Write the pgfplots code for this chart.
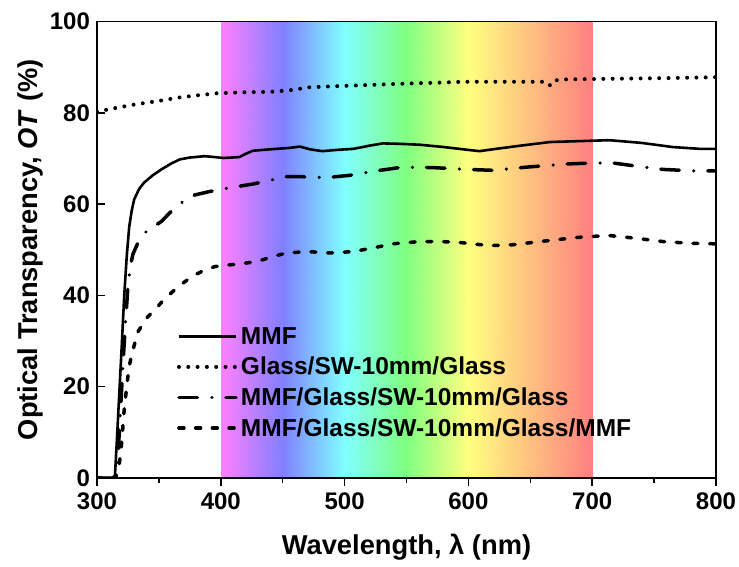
\documentclass[border=0pt]{standalone}
\usepackage{fontspec}
\setmainfont{Liberation Sans}
\usepackage{pgfplots}
\pgfplotsset{compat=1.18}
\begin{document}
\begin{tikzpicture}
\begin{axis}[
  at={(97pt,88pt)}, anchor=south west,
  scale only axis, width=619pt, height=456.5pt,
  xmin=300, xmax=800, ymin=0, ymax=100,
  xtick={300,400,...,800}, ytick={0,20,...,100},
  minor xtick={350,450,...,750},
  tick align=inside, xtick pos=bottom, ytick pos=left,
  major tick length=8pt, minor tick length=5pt,
  every tick/.style={black, line width=1.5pt},
  every major x tick/.append style={yshift=-8pt},
  every minor x tick/.append style={yshift=-5pt},
  axis line style={line width=1.8pt},
  axis on top,
  /pgf/number format/assume math mode=true,
  tick label style={font=\fontsize{24}{28}\selectfont\bfseries},
  xticklabel style={yshift=-11pt},
  yticklabel style={xshift=-3.6pt},
  label style={font=\fontsize{27.3}{32}\selectfont\bfseries},
  xlabel={Wavelength, λ (nm)},
  ylabel={Optical Transparency, \textit{OT} (\%)},
  xlabel style={at={(axis description cs:0.5,0)}, anchor=center, yshift=-69pt},
  ylabel style={at={(axis description cs:-0.108,0.5)}, anchor=center},
  colormap={spec}{rgb255=(255,128,255) rgb255=(128,128,255) rgb255=(128,255,255) rgb255=(128,255,128) rgb255=(255,255,128) rgb255=(255,192,128) rgb255=(255,128,128)},
  point meta min=400, point meta max=700,
  legend style={at={(axis cs:362,33.7)}, anchor=north west, draw=none, fill=none,
    font=\fontsize{24.5}{29}\selectfont\bfseries, row sep=9.4pt, column sep=2pt,
    nodes={inner sep=1pt}},
  legend cell align=left,
  legend image code/.code={\draw[#1] (0pt,0pt) -- (57pt,0pt);},
]
\addplot[surf, shader=interp, point meta=x, mesh/cols=2, forget plot]
  coordinates {(400,0) (700,0) (400,100) (700,100)};

\addplot[black, line width=2.6pt, line join=round] coordinates {
(300,0) (312,0) (314.5,0.5) (316,8) (318,18.5) (320,29) (322,40) (324,48.5) (326,55) (328,58.5) (330,61) (334,63.3) (338,64.7) (345,66.3) (352,67.6) (360,68.9) (367,69.8) (375,70.2) (387,70.5) (395,70.3) (402,70.1) (415,70.3) (420,71.0) (426,71.7) (440,72.0) (455,72.3) (464,72.6) (472,72.0) (482,71.6) (495,71.9) (507,72.1) (520,72.8) (531,73.3) (545,73.2) (561,73.0) (580,72.5) (599,71.9) (609,71.6) (625,72.2) (645,72.9) (666,73.6) (690,73.8) (714,74.0) (740,73.4) (765,72.5) (787,72.1) (800,72.1)
};
\addlegendentry{MMF}

\addplot[black, line width=4pt, line cap=round, dash pattern=on 0.01pt off 9.3pt] coordinates {
(300,80.2) (310,80.8) (320,81.3) (330,81.8) (340,82.2) (352,82.7) (365,83.3) (380,83.8) (398,84.3) (420,84.5) (440,84.6) (455,84.9) (472,85.6) (490,85.8) (520,86.1) (550,86.4) (575,86.6) (596,86.8) (620,86.8) (645,86.8) (663,86.8) (666,86.0) (669,87.0) (674,87.3) (700,87.4) (730,87.5) (760,87.6) (800,87.8)
};
\addlegendentry{Glass/SW-10mm/Glass}

\addplot[black, line width=3.5pt, line cap=round, dash pattern=on 18.5pt off 14.5pt on 0.01pt off 14pt] coordinates {
(300,0) (314,0) (317,5) (319,15) (321,25) (323,34) (325,42) (327,46.5) (329,49) (333,51.5) (339,53.8) (352,56.2) (365,59.8) (379,62) (390,62.7) (401,63.3) (426,64.4) (453,66.0) (466,66.0) (485,65.8) (504,66.3) (526,67.3) (547,68.1) (571,68.0) (599,67.6) (620,67.4) (647,68.1) (680,68.8) (700,69.0) (717,69.0) (739,68.2) (757,67.6) (780,67.3) (800,67.3)
};
\addlegendentry{MMF/Glass/SW-10mm/Glass}

\addplot[black, line width=3.5pt, line cap=round, dash pattern=on 5pt off 11.7pt] coordinates {
(300,0) (315,0) (318,3) (320,8) (322,15) (324,20) (326,24.5) (329,28) (333,32) (340,35) (347,37) (355,39.3) (361,40.8) (370,42.8) (377,44.2) (385,45.3) (395,46.3) (400,46.5) (415,46.9) (429,47.4) (442,48.5) (453,49.3) (470,49.6) (488,49.3) (507,49.6) (523,50.4) (539,51.3) (561,51.8) (577,51.8) (593,51.6) (617,50.9) (636,51.1) (658,51.8) (688,52.7) (698,52.9) (714,53.1) (736,52.5) (757,51.8) (780,51.4) (800,51.3)
};
\addlegendentry{MMF/Glass/SW-10mm/Glass/MMF}
\end{axis}
\pgfresetboundingbox
\path[use as bounding box] (0,0) rectangle (739pt,566pt);
\end{tikzpicture}
\end{document}
